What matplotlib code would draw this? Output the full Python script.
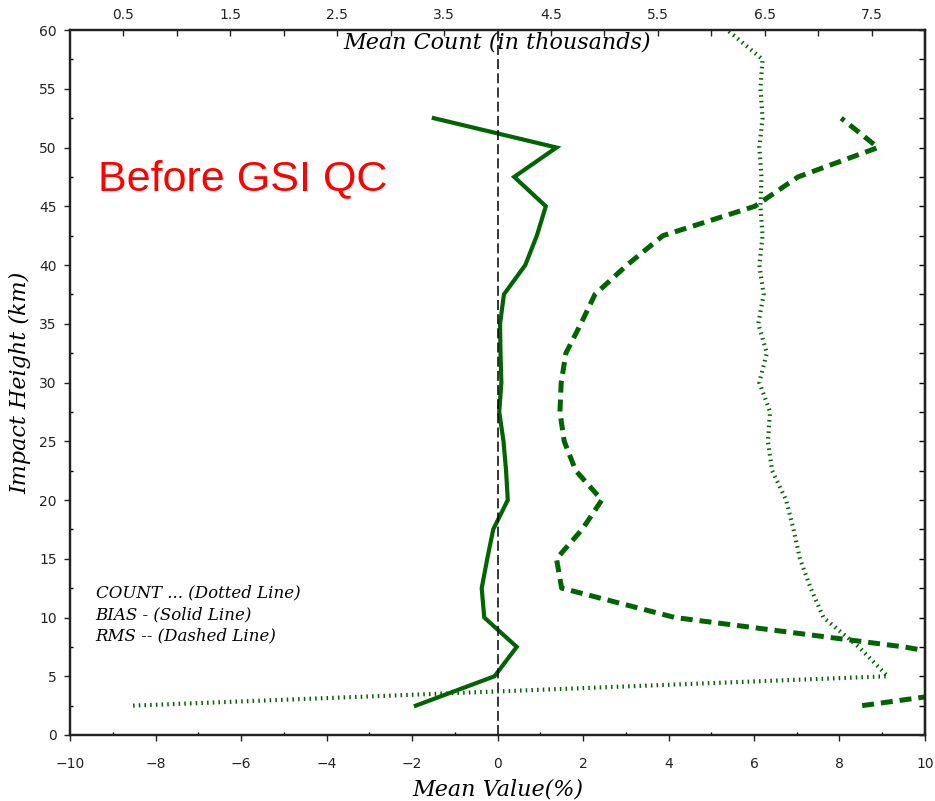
import numpy as np
import matplotlib
matplotlib.use("Agg")
import matplotlib.pyplot as plt

plt.rcParams['lines.scale_dashes'] = False

# impact heights (km)
heights = [2.5, 5, 7.5, 10, 12.5, 15, 17.5, 20, 22.5, 25, 27.5, 30, 32.5,
           35, 37.5, 40, 42.5, 45, 47.5, 50, 52.5]
count_heights = heights + [55, 57.5, 60]

# mean bias (%)
bias = [-1.91, -0.07, 0.45, -0.31, -0.37, -0.24, -0.10, 0.24, 0.20, 0.14,
        0.04, 0.09, 0.07, 0.06, 0.15, 0.65, 0.92, 1.13, 0.39, 1.38, -1.49]
# rms (%)
rms = [8.53, 13.5, 9.5, 4.15, 1.50, 1.38, 1.98, 2.44, 1.83, 1.56, 1.46, 1.49,
       1.60, 1.95, 2.28, 3.03, 3.87, 6.02, 7.03, 8.90, 8.04]
# mean count (thousands)
count = [0.59, 7.65, 7.38, 7.05, 6.93, 6.83, 6.77, 6.70, 6.57, 6.53, 6.55,
         6.45, 6.52, 6.44, 6.49, 6.45, 6.48, 6.46, 6.47, 6.45, 6.48, 6.46,
         6.48, 6.15]

green = '#006400'
serif_it = dict(family='DejaVu Serif', style='italic')

fig = plt.figure(figsize=(9.35, 8.01), dpi=100)
ax = fig.add_axes([0.0749, 0.0824, 0.9144, 0.8801])

ax.plot(bias, heights, color=green, lw=3.0, solid_joinstyle='miter')
ax.plot(rms, heights, color=green, lw=3.6, dashes=(8.6, 5.0))
ax.axvline(0, color='k', lw=1.1, dashes=(7.2, 3.0))

ax.set_xlim(-10, 10)
ax.set_ylim(0, 60)
ax.set_xticks(np.arange(-10, 11, 2))
ax.set_xticks(np.arange(-9, 10, 2), minor=True)
ax.set_yticks(np.arange(0, 61, 5))
ax.set_yticks(np.arange(2.5, 60, 5), minor=True)
ax.tick_params(axis='both', which='major', direction='out', length=4.5,
               width=1, labelsize=10, colors='#222222')
ax.tick_params(axis='both', which='minor', direction='in', length=2.5, width=1)
ax.tick_params(axis='x', which='major', pad=11)
ax.tick_params(axis='y', which='major', pad=5)
ax.tick_params(right=False, top=False, which='both')

ax.set_xlabel('Mean Value(%)', fontsize=16, labelpad=6, **serif_it)
ax.set_ylabel('Impact Height (km)', fontsize=16, labelpad=6, **serif_it)

# right side ticks, pointing in
sec = ax.secondary_yaxis('right')
sec.set_yticks(np.arange(0, 61, 2.5))
sec.tick_params(axis='y', direction='in', length=4, width=1, labelright=False)
sec.spines['right'].set_linewidth(1.6)
sec.spines['right'].set_color('#222222')

ax2 = ax.twiny()
ax2.plot(count, count_heights, color=green, lw=3.0, dashes=(1.1, 3.0))
ax2.set_xlim(0, 8)
ax2.set_xticks(np.arange(0.5, 8, 1))
ax2.set_xticks(np.arange(1, 8, 1), minor=True)
ax2.tick_params(axis='x', which='both', direction='in', length=4.5, width=1,
                labelsize=10, pad=6, colors='#222222')

for a in (ax, ax2):
    for s in a.spines.values():
        s.set_linewidth(1.6)
        s.set_color('#222222')

ax.text(0, 58.9, 'Mean Count (in thousands)', ha='center', va='center',
        fontsize=16, **serif_it)
ax.text(-9.35, 47.3, 'Before GSI QC', color='red', fontsize=31,
        family='Liberation Sans', ha='left', va='center')
ax.text(-9.4, 12.1, 'COUNT ... (Dotted Line)', fontsize=12, va='center', **serif_it)
ax.text(-9.4, 10.25, 'BIAS - (Solid Line)', fontsize=12, va='center', **serif_it)
ax.text(-9.4, 8.4, 'RMS -- (Dashed Line)', fontsize=12, va='center', **serif_it)

fig.savefig('out.png', dpi=100)
